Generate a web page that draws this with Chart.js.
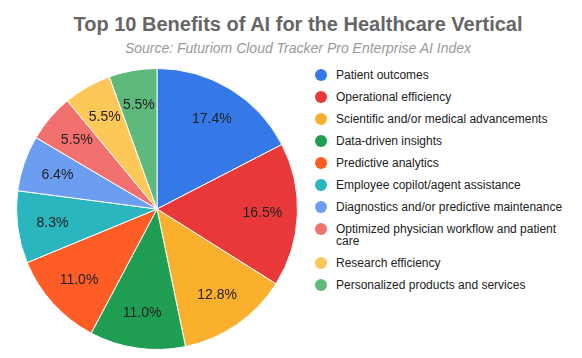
<!DOCTYPE html>
<html>
<head>
<meta charset="utf-8">
<script src="https://cdn.jsdelivr.net/npm/chart.js@4"></script>
<style>
  html, body { margin: 0; padding: 0; background: #fff; }
  body { width: 582px; height: 358px; position: relative; overflow: hidden; font-family: "Liberation Sans", Arial, sans-serif; }
  #title { position: absolute; left: 0; width: 596px; top: 13px; text-align: center; font-weight: bold; font-size: 20px; color: #666; white-space: nowrap; }
  #subtitle { position: absolute; left: 0; width: 596px; top: 40px; text-align: center; font-style: italic; font-size: 14px; color: #999; white-space: nowrap; }
  #chartBox { position: absolute; left: 0; top: 68px; width: 314px; height: 282px; }
  #legend { position: absolute; left: 315px; top: 69px; width: 265px; }
  .item { display: flex; align-items: flex-start; margin-bottom: 10px; }
  .dot { width: 12px; height: 12px; border-radius: 50%; flex: 0 0 12px; margin-right: 9px; }
  .txt { font-size: 12px; line-height: 12px; color: #222; width: 235px; }
</style>
</head>
<body>
<div id="title"></div>
<div id="subtitle"></div>
<div id="chartBox"><canvas id="c"></canvas></div>
<div id="legend"></div>
<script>
const titleText = "Top 10 Benefits of AI for the Healthcare Vertical";
const subtitleText = "Source: Futuriom Cloud Tracker Pro Enterprise AI Index";
const categories = [
  "Patient outcomes",
  "Operational efficiency",
  "Scientific and/or medical advancements",
  "Data-driven insights",
  "Predictive analytics",
  "Employee copilot/agent assistance",
  "Diagnostics and/or predictive maintenance",
  "Optimized physician workflow and patient care",
  "Research efficiency",
  "Personalized products and services"
];
const values = [17.4, 16.5, 12.8, 11.0, 11.0, 8.3, 6.4, 5.5, 5.5, 5.5];
const colors = ["#3579E9", "#E9383A", "#FBB02D", "#1F9D52", "#FE5E25", "#2BB5BE", "#6B9EF1", "#F2706E", "#FDC857", "#5DBA7C"];

document.getElementById('title').textContent = titleText;
document.getElementById('subtitle').textContent = subtitleText;

const legend = document.getElementById('legend');
categories.forEach((c, i) => {
  const it = document.createElement('div');
  it.className = 'item';
  const d = document.createElement('span');
  d.className = 'dot';
  d.style.background = colors[i];
  const t = document.createElement('span');
  t.className = 'txt';
  t.textContent = c;
  it.appendChild(d); it.appendChild(t);
  legend.appendChild(it);
});

const labelPlugin = {
  id: 'sliceLabels',
  afterDatasetsDraw(chart) {
    const ctx = chart.ctx;
    const meta = chart.getDatasetMeta(0);
    ctx.save();
    ctx.font = '14px "Liberation Sans", Arial, sans-serif';
    ctx.fillStyle = '#222';
    ctx.textAlign = 'center';
    ctx.textBaseline = 'middle';
    meta.data.forEach((arc, i) => {
      const p = arc.getProps(['x', 'y', 'startAngle', 'endAngle', 'outerRadius']);
      const a = (p.startAngle + p.endAngle) / 2;
      const r = p.outerRadius * 0.75;
      ctx.fillText(values[i].toFixed(1) + '%', p.x + Math.cos(a) * r, p.y + Math.sin(a) * r);
    });
    ctx.restore();
  }
};

new Chart(document.getElementById('c'), {
  type: 'pie',
  data: {
    labels: categories,
    datasets: [{
      data: values,
      backgroundColor: colors,
      borderColor: '#ffffff',
      borderWidth: 1
    }]
  },
  options: {
    responsive: true,
    maintainAspectRatio: false,
    animation: false,
    layout: { padding: 0 },
    plugins: {
      legend: { display: false },
      tooltip: { enabled: false },
      title: { display: false }
    }
  },
  plugins: [labelPlugin]
});
</script>
</body>
</html>
